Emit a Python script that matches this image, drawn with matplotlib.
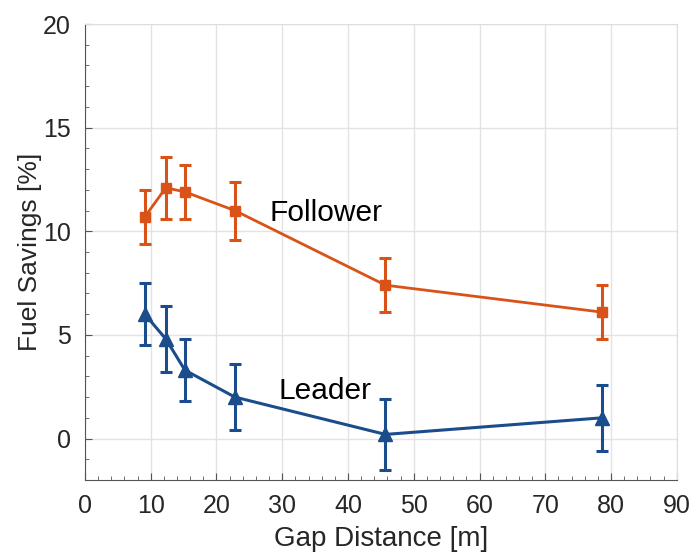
import matplotlib.pyplot as plt
from matplotlib.ticker import MultipleLocator

plt.rcParams['font.family'] = ['Liberation Sans', 'DejaVu Sans']

# Gap distance [m]
gap = [9.1, 12.3, 15.2, 22.8, 45.7, 78.6]

# Follower savings and error bars
follower = [10.7, 12.1, 11.9, 11.0, 7.4, 6.1]
follower_err = [1.3, 1.5, 1.3, 1.4, 1.3, 1.3]

# Leader savings and error bars
leader = [6.0, 4.8, 3.3, 2.0, 0.2, 1.0]
leader_err = [1.5, 1.6, 1.5, 1.6, 1.7, 1.6]

orange = '#D95319'
blue = '#1B4C8C'
txt = '#262626'

fig = plt.figure(figsize=(6.92, 5.52), dpi=100)
ax = fig.add_axes([0.1228, 0.1304, 0.8552, 0.8261])

ax.errorbar(gap, follower, yerr=follower_err, color=orange, marker='s',
            markersize=7.5, lw=2, elinewidth=2.2, capsize=4, capthick=2.2)
ax.errorbar(gap, leader, yerr=leader_err, color=blue, marker='^',
            markersize=10, lw=2.2, elinewidth=2.2, capsize=4, capthick=2.2)

ax.text(28.0, 10.9, 'Follower', fontsize=21.5, va='center', ha='left', color='black')
ax.text(29.5, 2.3, 'Leader', fontsize=21.5, va='center', ha='left', color='black')

ax.set_xlim(0, 90)
ax.set_ylim(-2, 20)
ax.xaxis.set_major_locator(MultipleLocator(10))
ax.xaxis.set_minor_locator(MultipleLocator(2))
ax.yaxis.set_major_locator(MultipleLocator(5))
ax.yaxis.set_minor_locator(MultipleLocator(1))

ax.grid(True, which='major', color='#E3E3E3', lw=1)
ax.set_axisbelow(True)

ax.tick_params(which='both', direction='in', top=False, right=False,
               labelsize=18, colors='#555555', labelcolor=txt, pad=10)
ax.tick_params(which='major', length=5)
ax.tick_params(which='minor', length=3)

for side in ['left', 'bottom']:
    ax.spines[side].set_color('#555555')
for side in ['top', 'right']:
    ax.spines[side].set_color('#DDDDDD')

ax.set_xlabel('Gap Distance [m]', fontsize=20, color=txt, labelpad=6)
ax.set_ylabel('Fuel Savings [%]', fontsize=19, color=txt, labelpad=1)

fig.savefig('out.png', dpi=100)
